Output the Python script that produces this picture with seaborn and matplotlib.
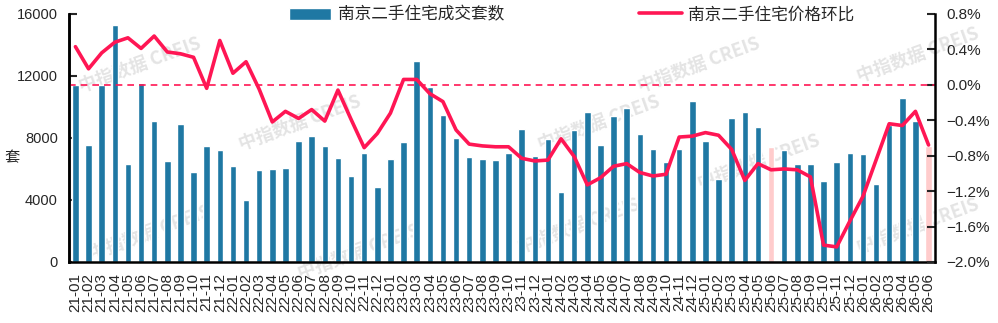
import numpy as np
import pandas as pd
import matplotlib
matplotlib.use("Agg")
import matplotlib.pyplot as plt
import seaborn as sns
from matplotlib.patches import Patch
from matplotlib.lines import Line2D

# DATA
months = [f"{y}-{m:02d}" for y in range(21, 27) for m in range(1, 13)][:66]

deals = [
    11400, 7550, 11400, 15300, 6320, 11550, 9100, 6520, 8900, 5800, 7480, 7230,   # 21
    6200, 4000, 5940, 6000, 6060, 7800, 8130, 7480, 6710, 5550, 7030, 4840,       # 22
    6650, 7740, 12970, 11290, 9480, 8000, 6770, 6650, 6580, 7030, 8580, 6840,     # 23
    7940, 4520, 8520, 9680, 7550, 9420, 9940, 8260, 7290, 6450, 7290, 10390,      # 24
    7810, 5360, 9290, 9680, 8710, 7420, 7230, 6320, 6320, 5230, 6450, 7030,       # 25
    6970, 5030, 8840, 10580, 9100, 7480,                                          # 26
]

price_mom = [
    0.43, 0.18, 0.36, 0.48, 0.53, 0.41, 0.55, 0.37, 0.35, 0.31, -0.04, 0.50,
    0.13, 0.26, -0.05, -0.42, -0.30, -0.38, -0.28, -0.41, -0.06, -0.39, -0.71, -0.55,
    -0.32, 0.06, 0.06, -0.10, -0.19, -0.51, -0.67, -0.69, -0.70, -0.70, -0.83, -0.86,
    -0.85, -0.61, -0.81, -1.13, -1.05, -0.92, -0.89, -0.99, -1.03, -1.01, -0.59, -0.58,
    -0.54, -0.57, -0.73, -1.08, -0.89, -0.96, -0.95, -0.96, -1.04, -1.81, -1.83, -1.54,
    -1.26, -0.85, -0.44, -0.46, -0.30, -0.68,
]

highlight = ["25-06", "26-06"]

bar_label = "南京二手住宅成交套数"
line_label = "南京二手住宅价格环比"

left_ticks = [0, 4000, 8000, 12000, 16000]
right_ticks = [-2.0, -1.6, -1.2, -0.8, -0.4, 0.0, 0.4, 0.8]

BLUE = "#1f78a3"
PINK = "#ffcccc"
RED = "#ff1654"

df = pd.DataFrame({"month": months, "deals": deals, "mom": price_mom})
df["x"] = range(len(df))

sns.set_style("white")
plt.rcParams["font.family"] = ["Liberation Sans", "Noto Sans CJK SC", "DejaVu Sans"]

fig = plt.figure(figsize=(9.98, 3.23), dpi=100)
ax = fig.add_axes([0.069, 0.189, 0.868, 0.768])

# watermarks (faint, behind everything)
for (wx, wy) in [(0.14, 0.80), (0.30, 0.62), (0.60, 0.62), (0.70, 0.80), (0.15, 0.28),
                 (0.36, 0.22), (0.58, 0.30), (0.76, 0.50), (0.92, 0.83), (0.92, 0.30)]:
    fig.text(wx, wy, "中指数据 CREIS", fontsize=13, color="#e4e4e4",
             rotation=20, ha="center", va="center", family=["Noto Sans CJK SC"],
             fontweight="bold", zorder=-5)
ax.patch.set_alpha(0)

bar_colors = [PINK if m in highlight else BLUE for m in df["month"]]
sns.barplot(data=df, x="month", y="deals", hue="month", palette=bar_colors,
            width=0.5, legend=False, ax=ax, saturation=1)

ax.set_ylim(0, 16000)
ax.set_yticks(left_ticks)
ax.set_xlim(-0.5, len(df) - 0.5)
ax.set_xticks(np.arange(len(df)) - 0.5, minor=False)
ax.set_xticklabels([])
ax.set_xticks(np.arange(len(df)), minor=True)
ax.set_xticklabels(df["month"], minor=True, rotation=90, fontsize=11)
ax.tick_params(axis="x", which="major", direction="out", length=6, width=1.5, color="black")
ax.tick_params(axis="x", which="minor", length=0, pad=8)
ax.tick_params(axis="y", direction="in", length=6, width=1.5, labelsize=10.5, pad=8)
ax.set_xlabel("")
ax.set_ylabel("套", rotation=0, fontsize=11, va="center", ha="center",
              family=["Noto Sans CJK SC"])
ax.yaxis.set_label_coords(-0.066, 0.42)

ax2 = ax.twinx()
sns.lineplot(data=df, x="x", y="mom", color=RED, linewidth=2.6, ax=ax2,
             solid_joinstyle="round", solid_capstyle="round")
ax2.axhline(0, color=RED, linestyle=(0, (4, 3)), linewidth=1.2)
ax2.set_ylim(-2.0, 0.8)
ax2.set_yticks(right_ticks)
ax2.set_yticklabels([f"{v:.1f}%".replace("-", "\u2212") for v in right_ticks])
ax2.tick_params(axis="y", direction="in", length=6, width=1.5, labelsize=11, pad=8)
ax2.set_ylabel("")
ax2.set_xlabel("")
ax2.set_xlim(-0.5, len(df) - 0.5)

for a in (ax, ax2):
    a.spines["top"].set_visible(False)
    for s in ("left", "right", "bottom"):
        a.spines[s].set_linewidth(1.8)
        a.spines[s].set_color("black")
ax.spines["right"].set_visible(False)
ax2.spines["bottom"].set_visible(False)

# legend
h1 = Patch(facecolor=BLUE, label=bar_label)
h2 = Line2D([0], [0], color=RED, linewidth=2.6, label=line_label)
ax2.legend(handles=[h1, h2], loc="upper left", bbox_to_anchor=(0.254, 1.03),
           borderaxespad=0, borderpad=0, ncol=2, frameon=False,
           columnspacing=8.1, handlelength=2.55, handleheight=0.75,
           handletextpad=0.4,
           prop={"family": ["Noto Sans CJK SC"], "size": 12})

fig.savefig("out.png", dpi=100)
